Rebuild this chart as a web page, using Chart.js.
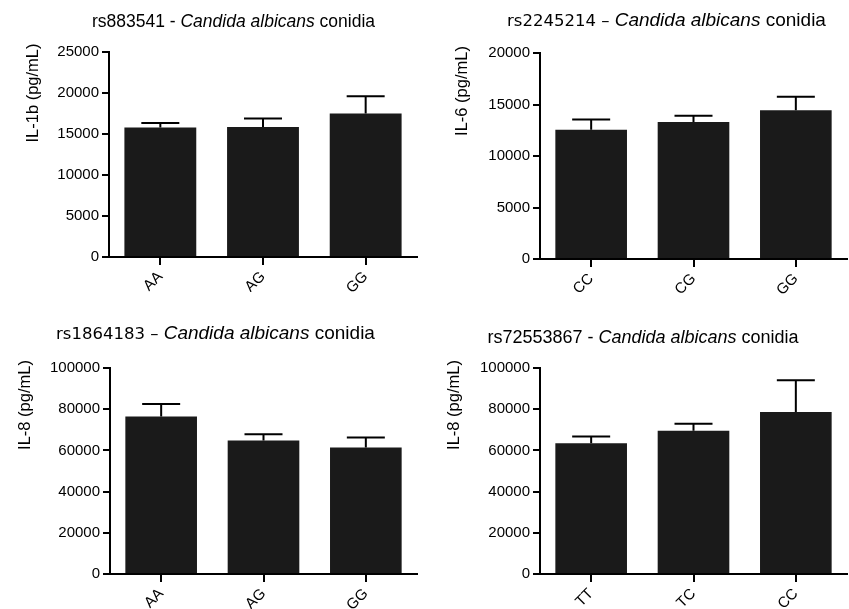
<!DOCTYPE html>
<html>
<head>
<meta charset="utf-8">
<script src="https://cdn.jsdelivr.net/npm/chart.js@4.4.1/dist/chart.umd.min.js"></script>
<style>
  body { margin: 0; background: #fff; width: 849px; height: 609px; position: relative; overflow: hidden; }
  canvas { position: absolute; }
</style>
</head>
<body>
<canvas id="c1" width="424" height="300" style="left:0;top:0"></canvas>
<canvas id="c2" width="425" height="300" style="left:424px;top:0"></canvas>
<canvas id="c3" width="424" height="309" style="left:0;top:300px"></canvas>
<canvas id="c4" width="425" height="309" style="left:424px;top:300px"></canvas>
<script>
// rs883541 - IL-1b
const il1bGenotypes = ["AA", "AG", "GG"];
const il1bMeans = [15800, 15850, 17500];
const il1bErrors = [530, 1050, 2100];

// rs2245214 - IL-6
const il6Genotypes = ["CC", "CG", "GG"];
const il6Means = [12550, 13300, 14450];
const il6Errors = [1000, 600, 1300];

// rs1864183 - IL-8
const il8aGenotypes = ["AA", "AG", "GG"];
const il8aMeans = [76500, 64800, 61400];
const il8aErrors = [6000, 3100, 4900];

// rs72553867 - IL-8
const il8bGenotypes = ["TT", "TC", "CC"];
const il8bMeans = [63500, 69500, 78600];
const il8bErrors = [3200, 3400, 15400];

// y axis ranges: [max, step]
const il1bAxis = [25000, 5000];
const il6Axis = [20000, 5000];
const il8Axis = [100000, 20000];

const sans = '"Liberation Sans", Arial, sans-serif';
const vera = '"DejaVu Sans", sans-serif';

// upper error bars (mean + error) drawn through the y scale
const errorBars = {
  id: "errorBars",
  afterDatasetsDraw(chart) {
    const ctx = chart.ctx;
    const ds = chart.data.datasets[0];
    const y = chart.scales.y;
    ctx.save();
    ctx.strokeStyle = "#000";
    ctx.lineWidth = 2;
    chart.getDatasetMeta(0).data.forEach((bar, i) => {
      const top = y.getPixelForValue(ds.data[i] + ds.errors[i]);
      ctx.beginPath();
      ctx.moveTo(bar.x, bar.y);
      ctx.lineTo(bar.x, top);
      ctx.moveTo(bar.x - 19, top);
      ctx.lineTo(bar.x + 19, top);
      ctx.stroke();
    });
    ctx.restore();
  },
};

// title with mixed fonts (italic species name) and the rotated y title
const panelText = {
  id: "panelText",
  afterDraw(chart, args, o) {
    const ctx = chart.ctx;
    ctx.save();
    ctx.fillStyle = "#000";
    ctx.textBaseline = "alphabetic";
    ctx.textAlign = "left";
    let w = 0;
    o.title.forEach((s) => { ctx.font = s.font; w += ctx.measureText(s.text).width; });
    let x = o.titleX - w / 2;
    o.title.forEach((s) => {
      ctx.font = s.font;
      ctx.fillText(s.text, x, o.titleY);
      x += ctx.measureText(s.text).width;
    });
    ctx.translate(o.yTitleX, o.yTitleY);
    ctx.rotate(-Math.PI / 2);
    ctx.textAlign = "center";
    ctx.textBaseline = "middle";
    ctx.font = "16.5px " + sans;
    ctx.fillText(o.yTitle, 0, 0);
    ctx.restore();
  },
};

function makeChart(id, labels, means, errors, axis, p) {
  new Chart(document.getElementById(id), {
    type: "bar",
    data: {
      labels: labels,
      datasets: [{
        data: means,
        errors: errors,
        backgroundColor: "#1a1a1a",
        borderWidth: 0,
        barPercentage: 0.7,
        categoryPercentage: 1,
      }],
    },
    options: {
      responsive: false,
      animation: false,
      layout: { padding: p.pad },
      plugins: {
        legend: { display: false },
        tooltip: { enabled: false },
        panelText: p.text,
      },
      scales: {
        x: {
          grid: { offset: false, drawOnChartArea: false, tickLength: 8, color: "#000", lineWidth: 2 },
          border: { color: "#000", width: 2 },
          ticks: { color: "#000", font: { size: 15, family: sans }, minRotation: 45, maxRotation: 45, padding: 3 },
          afterFit: (s) => { s.height = 35; },
        },
        y: {
          min: 0,
          max: axis[0],
          ticks: { stepSize: axis[1], color: "#000", font: { size: 15, family: sans }, padding: 3,
                   callback: (v) => String(v) },
          grid: { drawOnChartArea: false, tickLength: 7, color: "#000", lineWidth: 2 },
          border: { color: "#000", width: 2 },
          afterFit: (s) => { s.width = p.yw; },
        },
      },
    },
    plugins: [errorBars, panelText],
  });
}

makeChart("c1", il1bGenotypes, il1bMeans, il1bErrors, il1bAxis, {
  pad: { top: 52, left: 0, right: 7, bottom: 8 }, yw: 109,
  text: {
    title: [
      { text: "rs883541 - ", font: "17.5px " + sans },
      { text: "Candida albicans", font: "italic 17.5px " + sans },
      { text: " conidia", font: "17.5px " + sans },
    ],
    titleX: 233.5, titleY: 27, yTitle: "IL-1b (pg/mL)", yTitleX: 33, yTitleY: 93,
  },
});

makeChart("c2", il6Genotypes, il6Means, il6Errors, il6Axis, {
  pad: { top: 53, left: 0, right: 2, bottom: 6 }, yw: 116,
  text: {
    title: [
      { text: "rs2245214 \u2013 ", font: "16.5px " + vera },
      { text: "Candida albicans", font: "italic 19px " + sans },
      { text: " conidia", font: "19px " + sans },
    ],
    titleX: 242.5, titleY: 26, yTitle: "IL-6 (pg/mL)", yTitleX: 38, yTitleY: 91,
  },
});

makeChart("c3", il8aGenotypes, il8aMeans, il8aErrors, il8Axis, {
  pad: { top: 68, left: 0, right: 7, bottom: 0 }, yw: 110,
  text: {
    title: [
      { text: "rs1864183 \u2013 ", font: "16.5px " + vera },
      { text: "Candida albicans", font: "italic 19px " + sans },
      { text: " conidia", font: "19px " + sans },
    ],
    titleX: 215.5, titleY: 39, yTitle: "IL-8 (pg/mL)", yTitleX: 25, yTitleY: 105,
  },
});

makeChart("c4", il8bGenotypes, il8bMeans, il8bErrors, il8Axis, {
  pad: { top: 68, left: 0, right: 2, bottom: 0 }, yw: 116,
  text: {
    title: [
      { text: "rs72553867 - ", font: "18px " + sans },
      { text: "Candida albicans", font: "italic 18px " + sans },
      { text: " conidia", font: "18px " + sans },
    ],
    titleX: 219, titleY: 43, yTitle: "IL-8 (pg/mL)", yTitleX: 30, yTitleY: 105,
  },
});
</script>
</body>
</html>
